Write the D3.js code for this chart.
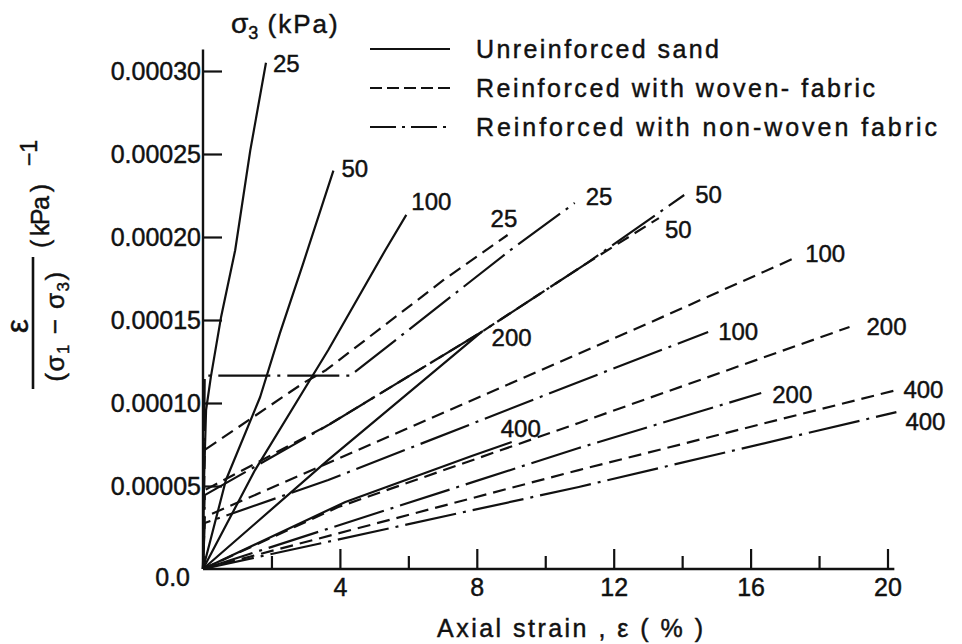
<!DOCTYPE html>
<html>
<head>
<meta charset="utf-8">
<script src="https://cdn.jsdelivr.net/npm/d3@7"></script>
<style>
  body { margin: 0; background: #fff; }
  svg { display: block; }
  text { font-family: "Liberation Sans", Arial, sans-serif; fill: #111; stroke: #111; stroke-width: 0.45px; }
</style>
</head>
<body>
<svg id="chart" width="962" height="644"></svg>
<script>
// Axis ticks
const strainTicks = [4, 8, 12, 16, 20];
const strainMinorTicks = [2, 6, 10, 14, 18];
const ratioTicks = [0.00005, 0.0001, 0.00015, 0.0002, 0.00025, 0.0003];
const ratioTickLabels = ["0.00005", "0.00010", "0.00015", "0.00020", "0.00025", "0.00030"];

// Confining pressure σ3 (kPa) of each test
const pressures = [25, 50, 100, 200, 400];

// Axial strain ε (%) against ε/(σ1−σ3) (kPa⁻¹) — unreinforced sand
const sand25  = [[0,0],[0.03,0.0000536],[0.09,0.0000958],[0.23,0.0001157],[0.53,0.000152],[0.94,0.000192],[1.38,0.000252],[1.84,0.000305]];
const sand50  = [[0,0],[0.67,0.0000536],[1.67,0.0001036],[2.25,0.0001422],[2.93,0.0001843],[3.81,0.00024]];
const sand100 = [[0,0],[1.52,0.0000596],[3.66,0.0001319],[5.33,0.0001922],[5.94,0.0002133]];
const sand200 = [[0,0],[3.66,0.0000657],[8.14,0.0001428]];
const sand400 = [[0,0],[4.16,0.0000404],[7.85,0.0000681],[9.02,0.0000765]];

// Reinforced with woven fabric
const woven25  = [[0,0],[0.05,0.0000717],[2.93,0.000112],[3.6,0.0001199],[7.03,0.0001741],[8.9,0.0002012]];
const woven50  = [[0,0],[0.05,0.0000475],[3.66,0.0000867],[8.14,0.0001428],[11.22,0.0001843],[13.32,0.0002114]];
const woven100 = [[0,0],[0.05,0.0000313],[3.66,0.0000639],[13.03,0.0001482],[17.36,0.000188]];
const woven200 = [[0,0],[3.95,0.0000373],[10.98,0.000088],[18.89,0.0001458]];
const woven400 = [[0,0],[10.98,0.0000596],[20.26,0.0001078]];

// Reinforced with non-woven fabric
const nonwoven25  = [[0,0],[0.05,0.0001165],[4.3,0.0001165],[8.99,0.0001922],[10.86,0.0002205]];
const nonwoven50  = [[0,0],[0.05,0.0000445],[3.66,0.0000867],[8.14,0.0001428],[11.22,0.0001843],[14.06,0.0002253]];
const nonwoven100 = [[0,0],[0.05,0.0000277],[3.66,0.0000536],[10.98,0.0001127],[14.76,0.0001428]];
const nonwoven200 = [[0,0],[10.98,0.0000729],[16.31,0.000106]];
const nonwoven400 = [[0,0],[10.98,0.0000494],[20.26,0.0000945]];

const legendNames = ["Unreinforced sand", "Reinforced with woven- fabric", "Reinforced with non-woven fabric"];

// ---- drawing ----
const svg = d3.select("#chart");
const x = d3.scaleLinear().domain([0, 20]).range([203, 887.5]);
const y = d3.scaleLinear().domain([0, 0.0003]).range([569, 71]);

const styles = {
  sand:     { dash: null },
  woven:    { dash: "13,7" },
  nonwoven: { dash: "52,7,3,7" }
};
const legendDash = [null, "12,5", "26,6,3,6"];

const series = [
  { kind: "sand", curves: [sand25, sand50, sand100, sand200, sand400] },
  { kind: "woven", curves: [woven25, woven50, woven100, woven200, woven400] },
  { kind: "nonwoven", curves: [nonwoven25, nonwoven50, nonwoven100, nonwoven200, nonwoven400] }
];

// label placement next to the end of each curve (dx, dy in px)
const labelNudge = {
  sand:     [[7, 9], [8, 6], [5, -5], [10, 14], [-11, -5]],
  woven:    [[-17, -8], [6, 20], [8, 5], [17, 8], [7, 8]],
  nonwoven: [[11, 2], [11, 8], [10, 8], [11, 10], [9, 18]]
};

const line = d3.line().x(d => x(d[0])).y(d => y(d[1]));

// axes
const xAxisG = svg.append("g").attr("transform", `translate(0,${y(0)})`)
  .call(d3.axisBottom(x).tickValues(strainTicks).tickSizeInner(-20).tickSizeOuter(0).tickPadding(9)
    .tickFormat(d3.format("d")));
const xMinorG = svg.append("g").attr("transform", `translate(0,${y(0)})`)
  .call(d3.axisBottom(x).tickValues(strainMinorTicks).tickSizeInner(-13).tickSizeOuter(0).tickFormat(""));
const yAxisG = svg.append("g").attr("transform", `translate(${x(0)},0)`)
  .call(d3.axisLeft(y).tickValues(ratioTicks).tickSizeInner(-19).tickSizeOuter(0).tickPadding(2)
    .tickFormat((d, i) => ratioTickLabels[i]));

[xAxisG, xMinorG, yAxisG].forEach(g => {
  g.select(".domain").remove();
  g.selectAll(".tick line").attr("stroke", "#111").attr("stroke-width", 2.2);
  g.selectAll(".tick text").attr("font-size", 25).attr("fill", "#111")
    .style("font-family", '"Liberation Sans", Arial, sans-serif');
});
xAxisG.selectAll(".tick text").attr("dy", "0.72em");

svg.append("line")
  .attr("x1", x(0)).attr("x2", x(20.2)).attr("y1", y(0)).attr("y2", y(0))
  .attr("stroke", "#111").attr("stroke-width", 2.4);
svg.append("line")
  .attr("x1", x(0)).attr("x2", x(0)).attr("y1", y(0)).attr("y2", y(0.000313))
  .attr("stroke", "#111").attr("stroke-width", 2.4);

svg.append("text").attr("x", x(0) - 13).attr("y", y(0) + 17)
  .attr("text-anchor", "end").attr("font-size", 25).text("0.0");

// curves
series.forEach(s => {
  const g = svg.append("g");
  s.curves.forEach((pts, i) => {
    g.append("path").datum(pts).attr("d", line)
      .attr("fill", "none").attr("stroke", "#111").attr("stroke-width", 2.2)
      .attr("stroke-dasharray", styles[s.kind].dash)
      .attr("stroke-linejoin", "round");
    const end = pts[pts.length - 1];
    const [dx, dy] = labelNudge[s.kind][i];
    g.append("text")
      .attr("x", x(end[0]) + dx).attr("y", y(end[1]) + dy)
      .attr("font-size", 24).text(pressures[i]);
  });
});

// σ3 heading
const head = svg.append("text").attr("x", 231).attr("y", 33).attr("font-size", 26);
head.append("tspan").attr("font-size", 28).text("σ");
head.append("tspan").attr("font-size", 18).attr("dy", 6).text("3");
head.append("tspan").attr("dy", -6).attr("letter-spacing", 2).text(" (kPa)");

// legend
const legendWidths = [243, 399, 461];
legendNames.forEach((name, i) => {
  const ly = 49 + i * 39;
  svg.append("line").attr("x1", 370).attr("x2", 450).attr("y1", ly).attr("y2", ly)
    .attr("stroke", "#111").attr("stroke-width", 2.2).attr("stroke-dasharray", legendDash[i]);
  svg.append("text").attr("x", 476).attr("y", ly + 9).attr("font-size", 25)
    .attr("textLength", legendWidths[i]).attr("lengthAdjust", "spacing").text(name);
});

// x-axis title
svg.append("text").attr("x", 437).attr("y", 637).attr("font-size", 25)
  .attr("textLength", 266).attr("lengthAdjust", "spacing")
  .text("Axial  strain , ε ( % )");

// y-axis title: ε over (σ1 − σ3), times (kPa)^−1, set vertically
const yt = svg.append("g");
yt.append("text").attr("transform", "translate(28,326) rotate(-90)")
  .attr("text-anchor", "middle").attr("font-size", 31).text("ε");
yt.append("line").attr("x1", 33).attr("x2", 33).attr("y1", 257).attr("y2", 389)
  .attr("stroke", "#111").attr("stroke-width", 2.6);
const den = yt.append("text").attr("transform", "translate(64,326) rotate(-90)")
  .attr("text-anchor", "middle").attr("font-size", 26).attr("letter-spacing", 1.5);
den.append("tspan").text("(σ");
den.append("tspan").attr("font-size", 17).attr("dy", 5).text("1");
den.append("tspan").attr("dy", -5).text(" − σ");
den.append("tspan").attr("font-size", 17).attr("dy", 5).text("3");
den.append("tspan").attr("dy", -5).text(")");
yt.append("text").attr("transform", "translate(49,216) rotate(-90)")
  .attr("text-anchor", "middle").attr("font-size", 25)
  .attr("textLength", 64).attr("lengthAdjust", "spacing").text("( kPa )");
yt.append("text").attr("transform", "translate(37,153) rotate(-90)")
  .attr("text-anchor", "middle").attr("font-size", 23).text("−1");
</script>
</body>
</html>
